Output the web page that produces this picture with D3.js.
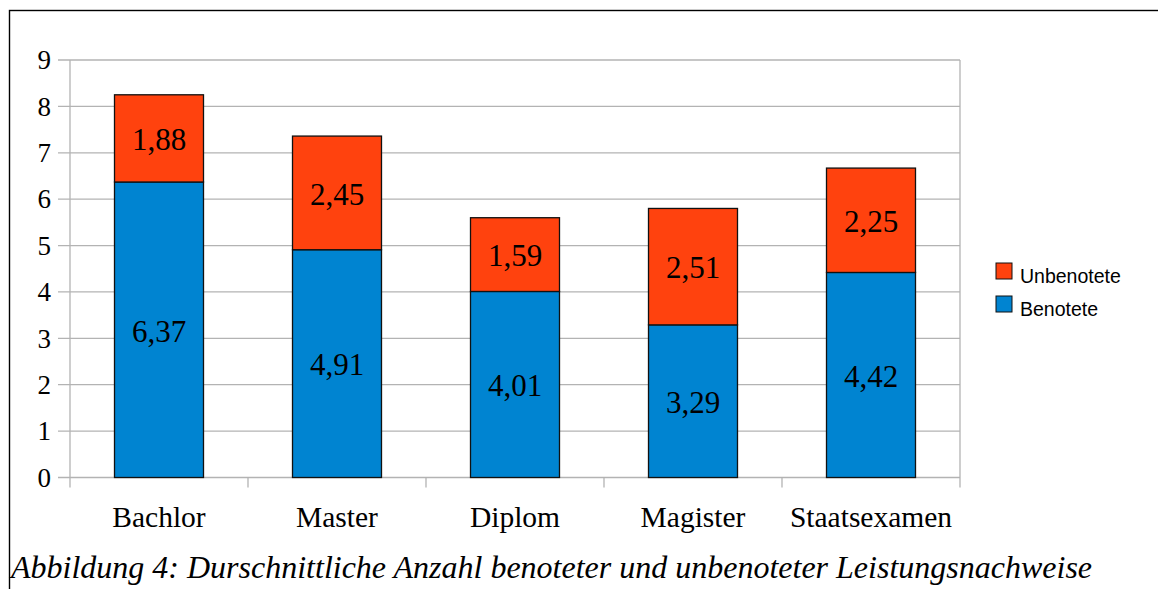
<!DOCTYPE html>
<html lang="de">
<head>
    <meta charset="utf-8" />
    <title>Durchschnittliche Anzahl Leistungsnachweise</title>
    <script src="https://cdnjs.cloudflare.com/ajax/libs/d3/7.8.5/d3.min.js"></script>
    <style>
        html, body { margin: 0; padding: 0; background: #fff; overflow: hidden; }
        svg { display: block; }
    </style>
</head>
<body>
<script>
    // Data
    const categories = ["Bachlor", "Master", "Diplom", "Magister", "Staatsexamen"];
    const benotete = [6.37, 4.91, 4.01, 3.29, 4.42];
    const unbenotete = [1.88, 2.45, 1.59, 2.51, 2.25];
    const seriesNames = ["Benotete", "Unbenotete"];
    const yTicks = [0, 1, 2, 3, 4, 5, 6, 7, 8, 9];
    const caption = "Abbildung 4: Durschnittliche Anzahl benoteter und unbenoteter Leistungsnachweise";

    const colors = { "Benotete": "#0084d1", "Unbenotete": "#ff420e" };

    const W = 1158, H = 589;
    const margin = { top: 60, left: 70, right: 198, bottom: 111.5 };
    const width = W - margin.left - margin.right;
    const height = H - margin.top - margin.bottom;
    const serif = "'Liberation Serif', 'Times New Roman', serif";

    const svg = d3.select("body").append("svg")
        .attr("width", W)
        .attr("height", H);

    // outer frame (cut off at right / bottom)
    svg.append("rect")
        .attr("x", 9.5).attr("y", 10.5)
        .attr("width", 1200).attr("height", 700)
        .attr("fill", "none")
        .attr("stroke", "#000")
        .attr("stroke-width", 1.4);

    const g = svg.append("g").attr("transform", `translate(${margin.left},${margin.top})`);

    const x = d3.scaleBand().domain(categories).range([0, width]).paddingInner(0.5).paddingOuter(0.25);
    const xOuter = d3.scaleBand().domain(categories).range([0, width]);
    const y = d3.scaleLinear().domain([0, 9]).range([height, 0]);

    // grid lines
    g.append("g")
        .selectAll("line")
        .data(yTicks)
        .join("line")
        .attr("x1", -12).attr("x2", width)
        .attr("y1", d => y(d)).attr("y2", d => y(d))
        .attr("stroke", "#b3b3b3")
        .attr("stroke-width", 1.3);

    // y axis line and right border
    g.append("line").attr("x1", 0).attr("x2", 0).attr("y1", 0).attr("y2", height + 10)
        .attr("stroke", "#b3b3b3").attr("stroke-width", 1.3);
    g.append("line").attr("x1", width).attr("x2", width).attr("y1", 0).attr("y2", height + 10)
        .attr("stroke", "#b3b3b3").attr("stroke-width", 1.3);

    // category ticks
    g.append("g")
        .selectAll("line")
        .data(categories.slice(1))
        .join("line")
        .attr("x1", d => xOuter(d)).attr("x2", d => xOuter(d))
        .attr("y1", height).attr("y2", height + 10)
        .attr("stroke", "#b3b3b3").attr("stroke-width", 1.3);

    // y tick labels
    g.append("g")
        .selectAll("text")
        .data(yTicks)
        .join("text")
        .attr("x", -19)
        .attr("y", d => y(d))
        .attr("dy", "0.34em")
        .attr("text-anchor", "end")
        .style("font-family", serif)
        .style("font-size", "27px")
        .text(d => d);

    // category labels
    g.append("g")
        .selectAll("text")
        .data(categories)
        .join("text")
        .attr("x", d => xOuter(d) + xOuter.bandwidth() / 2)
        .attr("y", height + 49)
        .attr("text-anchor", "middle")
        .style("font-family", serif)
        .style("font-size", "29.5px")
        .text(d => d);

    // stacked bars
    const rows = categories.map((c, i) => ({ cat: c, Benotete: benotete[i], Unbenotete: unbenotete[i] }));
    const stacked = d3.stack().keys(seriesNames)(rows);

    const layers = g.selectAll(".layer")
        .data(stacked)
        .join("g")
        .attr("class", "layer");

    layers.selectAll("rect")
        .data(d => d.map(v => ({ key: d.key, v })))
        .join("rect")
        .attr("x", d => x(d.v.data.cat))
        .attr("width", x.bandwidth())
        .attr("y", d => y(d.v[1]))
        .attr("height", d => y(d.v[0]) - y(d.v[1]))
        .attr("fill", d => colors[d.key])
        .attr("stroke", "#111")
        .attr("stroke-width", 1.3);

    layers.selectAll("text")
        .data(d => d.map(v => ({ key: d.key, v })))
        .join("text")
        .attr("x", d => x(d.v.data.cat) + x.bandwidth() / 2)
        .attr("y", d => y((d.v[0] + d.v[1]) / 2))
        .attr("dy", "0.38em")
        .attr("text-anchor", "middle")
        .style("font-family", serif)
        .style("font-size", "31px")
        .text(d => d3.format(".2f")(d.v[1] - d.v[0]).replace(".", ","));

    // legend
    const legendItems = ["Unbenotete", "Benotete"];
    const legend = svg.append("g").attr("transform", "translate(996,263)");
    legend.selectAll("rect")
        .data(legendItems)
        .join("rect")
        .attr("x", 0)
        .attr("y", (d, i) => i * 33)
        .attr("width", 16).attr("height", 16)
        .attr("fill", d => colors[d])
        .attr("stroke", "#111")
        .attr("stroke-width", 1);
    legend.selectAll("text")
        .data(legendItems)
        .join("text")
        .attr("x", 24)
        .attr("y", (d, i) => i * 33 + 20)
        .style("font-family", "'Liberation Sans', Arial, sans-serif")
        .style("font-size", "19.5px")
        .text(d => d);

    // caption
    svg.append("text")
        .attr("x", 11)
        .attr("y", 578)
        .style("font-family", serif)
        .style("font-style", "italic")
        .style("font-size", "32px")
        .text(caption);
</script>
</body>
</html>
